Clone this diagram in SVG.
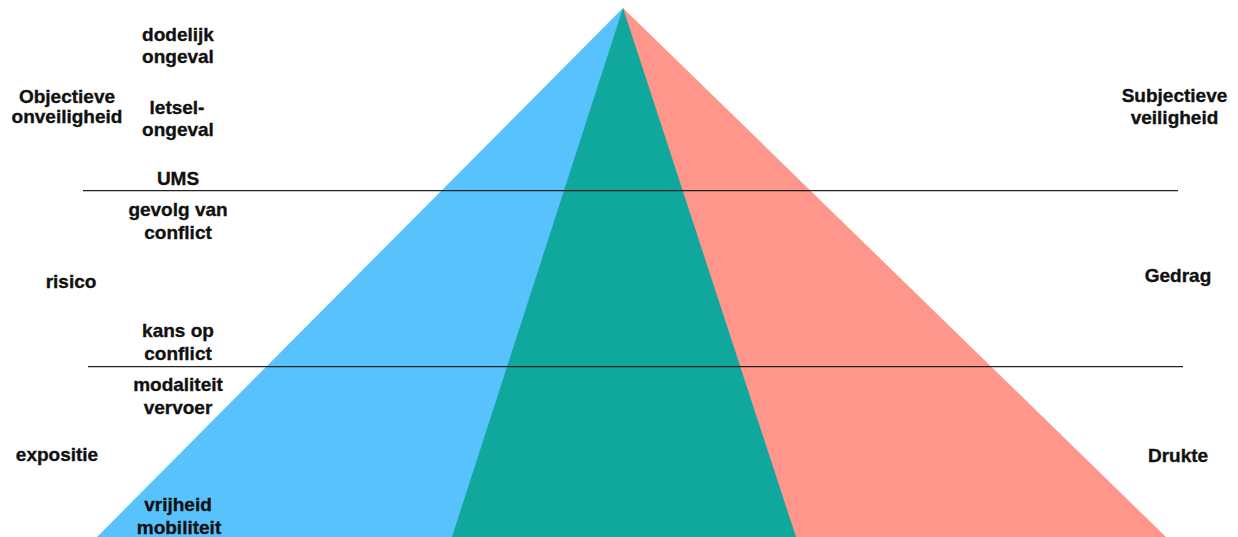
<svg xmlns="http://www.w3.org/2000/svg" width="1238" height="537" viewBox="0 0 1238 537">
<style>
text{font-family:"Liberation Sans",Arial,sans-serif;font-weight:bold;font-size:19px;fill:#111;stroke:#111;stroke-width:0.35;text-anchor:middle}
.rule{stroke:#222;stroke-width:1.3;fill:none}
</style>
<rect width="1238" height="537" fill="#fff"/>
<g id="pyramid">
<polygon points="623,8 97,537 623,537" fill="#58C2FC"/>
<polygon points="623,8 623,537 1166,537" fill="#FF968C"/>
<polygon points="623,8 452,537 796,537" fill="#10A89C"/>
</g>
<g id="connectors">
<line class="rule" x1="83" y1="190.7" x2="1178" y2="190.7"/>
<line class="rule" x1="88" y1="366.7" x2="1183" y2="366.7"/>
</g>
<g id="label-dodelijk"><text x="178" y="40.5">dodelijk</text><text x="178" y="62.7">ongeval</text></g>
<g id="label-objectieve"><text x="67" y="102.5">Objectieve</text><text x="67" y="123">onveiligheid</text></g>
<g id="label-letsel"><text x="177" y="114">letsel-</text><text x="178" y="136">ongeval</text></g>
<g id="label-ums"><text x="178" y="185">UMS</text></g>
<g id="label-gevolg"><text x="178" y="216">gevolg van</text><text x="178" y="239.3">conflict</text></g>
<g id="label-risico"><text x="71" y="288.3">risico</text></g>
<g id="label-kans"><text x="178" y="336.7">kans op</text><text x="178" y="360">conflict</text></g>
<g id="label-modaliteit"><text x="178" y="390.7">modaliteit</text><text x="178" y="414.3">vervoer</text></g>
<g id="label-expositie"><text x="57" y="461">expositie</text></g>
<g id="label-vrijheid"><text x="178" y="510.7">vrijheid</text><text x="179" y="534">mobiliteit</text></g>
<g id="label-subjectieve"><text x="1174.5" y="101.7">Subjectieve</text><text x="1174.5" y="124">veiligheid</text></g>
<g id="label-gedrag"><text x="1178" y="282">Gedrag</text></g>
<g id="label-drukte"><text x="1178" y="461.7">Drukte</text></g>
</svg>
